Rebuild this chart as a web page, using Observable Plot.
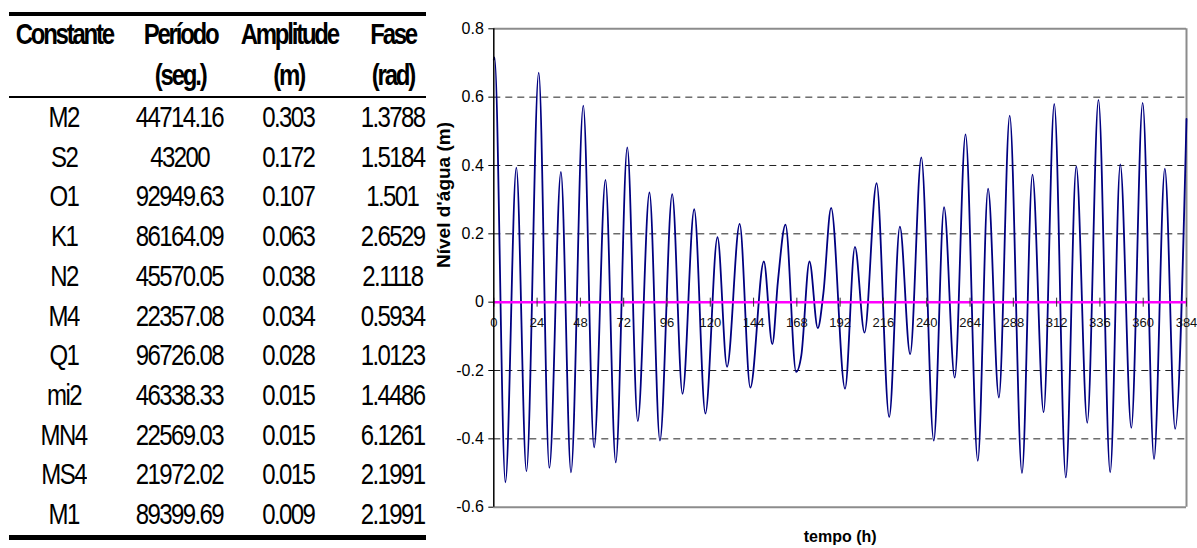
<!DOCTYPE html>
<html><head><meta charset="utf-8">
<script src="https://cdn.jsdelivr.net/npm/d3@7"></script>
<script src="https://cdn.jsdelivr.net/npm/@observablehq/plot@0.6"></script>
<style>
html,body{margin:0;padding:0;background:#fff;}
#wrap{position:relative;width:1197px;height:548px;overflow:hidden;font-family:'Liberation Sans',Arial,sans-serif;background:#fff;}
#chart{position:absolute;left:0;top:0;}
.cell{position:absolute;width:200px;text-align:center;white-space:nowrap;font-size:30px;height:40px;line-height:40px;color:#000;}
.cell span{display:inline-block;transform:scaleX(0.8);transform-origin:50% 50%;letter-spacing:-2px;padding-left:2px;}
.cell.h{font-weight:bold;}
.cell.h span{transform:scaleX(0.8);letter-spacing:-2.8px;padding-left:2.8px;}
.rule{position:absolute;left:9px;width:417px;background:#000;}
</style></head>
<body><div id="wrap"><div id="chart"></div></div>
<script>
// ---- table data ----
const cabecalho1 = ["Constante", "Período", "Amplitude", "Fase"];
const cabecalho2 = ["", "(seg.)", "(m)", "(rad)"];
const constantes = ["M2","S2","O1","K1","N2","M4","Q1","mi2","MN4","MS4","M1"];
const periodos = ["44714.16","43200","92949.63","86164.09","45570.05","22357.08","96726.08","46338.33","22569.03","21972.02","89399.69"];
const amplitudes = ["0.303","0.172","0.107","0.063","0.038","0.034","0.028","0.015","0.015","0.015","0.009"];
const fases = ["1.3788","1.5184","1.501","2.6529","2.1118","0.5934","1.0123","1.4486","6.1261","2.1991","2.1991"];

// ---- series data (extrema and shoulders) ----
const tempo = [0, 0.4, 6.45, 12.5, 18.1, 24.9, 30.8, 37.2, 42.8, 49.6, 55.6, 61.9, 67.6, 74.0, 79.8, 86.3, 92.1, 98.9, 104.6, 111.1, 117.3, 124.0, 129.3, 136.3, 142.2, 149.7, 154.4, 157.5, 161.7, 167.6, 170.5, 175.0, 179.6, 182.7, 187.0, 194.7, 200.2, 205.5, 212.2, 219.2, 225.1, 230.8, 237.0, 243.9, 249.6, 255.5, 261.5, 268.3, 274.0, 280.0, 286.0, 292.8, 298.6, 304.8, 310.7, 317.1, 322.9, 329.0, 335.2, 341.7, 347.3, 353.4, 359.7, 366.0, 372.0, 377.7, 384];
const nivel = [0.71, 0.716, -0.527, 0.394, -0.495, 0.672, -0.485, 0.381, -0.498, 0.575, -0.425, 0.358, -0.469, 0.453, -0.348, 0.321, -0.405, 0.316, -0.268, 0.272, -0.326, 0.190, -0.189, 0.229, -0.250, 0.119, -0.123, 0.061, 0.227, -0.204, -0.155, 0.119, -0.076, 0.026, 0.276, -0.253, 0.162, -0.089, 0.348, -0.336, 0.221, -0.152, 0.424, -0.405, 0.278, -0.221, 0.491, -0.464, 0.332, -0.279, 0.546, -0.500, 0.373, -0.322, 0.580, -0.513, 0.397, -0.353, 0.592, -0.498, 0.403, -0.368, 0.583, -0.459, 0.391, -0.371, 0.536];

const xTicks = [0, 24, 48, 72, 96, 120, 144, 168, 192, 216, 240, 264, 288, 312, 336, 360, 384];
const yTicks = [-0.6, -0.4, -0.2, 0, 0.2, 0.4, 0.6, 0.8];
const yGrid = [-0.4, -0.2, 0.2, 0.4, 0.6];

// ---- table rendering ----
const wrap = document.getElementById("wrap");
const colCenters = [63, 179, 288, 392];
function cell(text, cx, cy, header) {
  const d = document.createElement("div");
  d.className = "cell" + (header ? " h" : "");
  d.style.left = (cx - 100) + "px";
  d.style.top = (cy - 20) + "px";
  const s = document.createElement("span");
  s.textContent = text;
  d.appendChild(s);
  wrap.appendChild(d);
}
function rule(top, h) {
  const r = document.createElement("div");
  r.className = "rule";
  r.style.top = top + "px";
  r.style.height = h + "px";
  wrap.appendChild(r);
}
rule(11.5, 4.5);
rule(95.5, 2);
rule(534.5, 5);
cabecalho1.forEach((t, j) => cell(t, colCenters[j], 34, true));
cabecalho2.forEach((t, j) => { if (t) cell(t, colCenters[j], 75, true); });
const cols = [constantes, periodos, amplitudes, fases];
constantes.forEach((_, i) => {
  cols.forEach((col, j) => cell(col[i], colCenters[j], 117 + 39.7 * i, false));
});

// ---- chart ----
const data = tempo.map((t, i) => ({t, v: nivel[i]}));
const fmt = d => d === 0 ? "0" : d.toFixed(1);

const svg = Plot.plot({
  width: 1197,
  height: 548,
  marginLeft: 493.3,
  marginRight: 11,
  marginTop: 28.3,
  marginBottom: 41.3,
  x: {domain: [0, 384], axis: null},
  y: {domain: [-0.6, 0.8], axis: null},
  style: {fontFamily: "'Liberation Sans', Arial, sans-serif", fontSize: "16px", color: "#000", background: "transparent", overflow: "visible"},
  marks: [
    Plot.ruleY(yGrid, {stroke: "#222", strokeDasharray: "7,5", strokeWidth: 1}),
    Plot.ruleY([0.8, -0.6], {stroke: "#8c8c8c", strokeWidth: 2}),
    Plot.ruleX([384], {stroke: "#8c8c8c", strokeWidth: 2}),
    Plot.line(data, {x: "t", y: "v", stroke: "#000080", strokeWidth: 1.8, curve: "monotone-x"}),
    Plot.ruleY([0], {stroke: "#ff00ff", strokeWidth: 2.5}),
    Plot.ruleX(xTicks, {x: d => d, y1: 0, y2: 0, insetTop: -4, insetBottom: -5, stroke: "#333", strokeWidth: 1}),
    Plot.text(xTicks, {x: d => d, y: 0, text: d => String(d), dy: 21, fontSize: 13, fill: "#111", ariaLabel: "xlabels"}),
    Plot.ruleX([0], {stroke: "#000", strokeWidth: 1.5}),
    Plot.axisY({ticks: yTicks, tickFormat: fmt, tickSize: 5, tickPadding: 5, fontSize: 16, label: null, stroke: "#000"}),
    Plot.text(["Nível d'água (m)"], {frameAnchor: "left", dx: -50, rotate: -90, fontWeight: "bold", fontSize: 19, fill: "#000"}),
    Plot.text(["tempo (h)"], {frameAnchor: "bottom", dy: 35, fontWeight: "bold", fontSize: 16, fill: "#000", ariaLabel: "xtitle"})
  ]
});
document.getElementById("chart").appendChild(svg);
d3.select(svg).select('g[aria-label="xlabels"]').style("letter-spacing", "-1.2px");
d3.select(svg).select('g[aria-label="xtitle"]').style("letter-spacing", "-0.9px");
</script></body></html>
